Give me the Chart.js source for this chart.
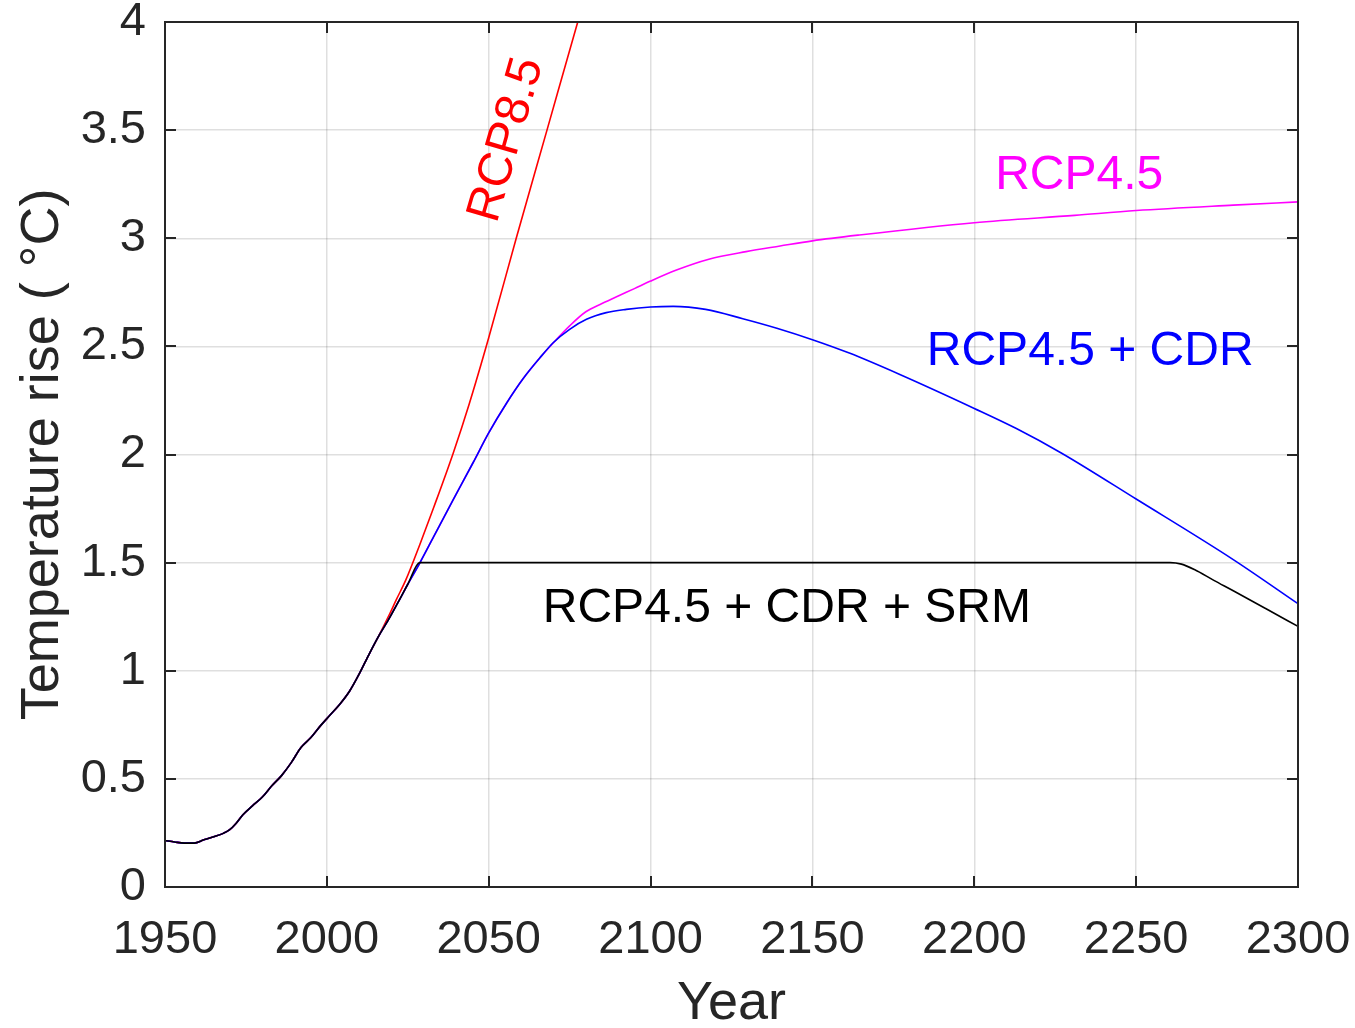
<!DOCTYPE html>
<html>
<head>
<meta charset="utf-8">
<script src="https://cdn.jsdelivr.net/npm/chart.js@4.4.1/dist/chart.umd.min.js"></script>
<style>
  html, body { margin: 0; padding: 0; background: #ffffff; }
  #c { display: block; }
</style>
</head>
<body>
<canvas id="c" width="1355" height="1028"></canvas>
<script>
// ---- Data ----
const histYears = [1950, 1953, 1956, 1959, 1962, 1965, 1968, 1970, 1972, 1974, 1977, 1980, 1983, 1986, 1989, 1992, 1995, 1998, 2001, 2004, 2007, 2010, 2013, 2016];
const histTemp  = [0.215, 0.208, 0.203, 0.203, 0.218, 0.232, 0.248, 0.265, 0.295, 0.333, 0.375, 0.415, 0.468, 0.515, 0.575, 0.645, 0.690, 0.745, 0.795, 0.845, 0.905, 0.985, 1.075, 1.160];

const rcp85Years = [2019, 2021.5, 2024.4, 2028.7, 2033, 2039, 2044, 2050, 2058.5, 2068, 2077.5, 2080];
const rcp85Temp  = [1.250, 1.330, 1.420, 1.583, 1.755, 2.005, 2.235, 2.540, 3.000, 3.500, 4.000, 4.130];

const rcp45Years = [2019, 2022.5, 2025, 2028.7, 2033, 2039, 2045.2, 2050, 2055.5, 2060.6, 2065.7, 2070, 2075, 2080, 2085, 2090, 2095, 2100, 2108, 2118, 2129.5, 2140, 2150, 2164.5, 2200, 2231, 2250, 2280, 2300];
const rcp45Temp  = [1.235, 1.330, 1.400, 1.498, 1.620, 1.790, 1.963, 2.100, 2.237, 2.350, 2.445, 2.517, 2.595, 2.660, 2.698, 2.733, 2.767, 2.802, 2.853, 2.903, 2.938, 2.964, 2.988, 3.015, 3.072, 3.106, 3.128, 3.153, 3.168];

const cdrYears = [2019, 2022.5, 2025, 2028.7, 2033, 2039, 2045.2, 2050, 2055.5, 2060.6, 2065.7, 2069.9, 2075, 2080.2, 2086.3, 2092.5, 2100, 2107, 2117, 2128.5, 2139, 2150, 2161.4, 2177, 2200, 2213, 2227, 2250, 2280, 2300];
const cdrTemp  = [1.235, 1.330, 1.400, 1.498, 1.620, 1.790, 1.963, 2.100, 2.237, 2.350, 2.445, 2.517, 2.579, 2.625, 2.656, 2.671, 2.682, 2.685, 2.671, 2.628, 2.584, 2.531, 2.469, 2.370, 2.213, 2.120, 2.006, 1.794, 1.514, 1.310];

const srmYears = [2019, 2022.5, 2025, 2028.7, 2100, 2200, 2260.5, 2264, 2268, 2274, 2280, 2290, 2300];
const srmTemp  = [1.235, 1.330, 1.400, 1.500, 1.500, 1.500, 1.500, 1.493, 1.468, 1.418, 1.370, 1.288, 1.205];

const xTickValues = [1950, 2000, 2050, 2100, 2150, 2200, 2250, 2300];
const xTickLabels = ['1950', '2000', '2050', '2100', '2150', '2200', '2250', '2300'];
const yTickValues = [0, 0.5, 1, 1.5, 2, 2.5, 3, 3.5, 4];
const yTickLabels = ['0', '0.5', '1', '1.5', '2', '2.5', '3', '3.5', '4'];

const seriesNames  = ['RCP8.5', 'RCP4.5', 'RCP4.5 + CDR', 'RCP4.5 + CDR + SRM'];
const seriesColors = ['#ff0000', '#ff00ff', '#0000ff', '#000000'];

// annotation positions in data units
const labelYears = [2055.6, 2232.4, 2235.8, 2142.1];
const labelTemps = [3.455, 3.29, 2.475, 1.287];
const labelRot   = [-74, 0, 0, 0];

// ---- build points ----
function pts(years, temps) { return years.map((y, i) => ({ x: y, y: temps[i] })); }
const hist = pts(histYears, histTemp);
const seriesPoints = [
  hist.concat(pts(rcp85Years, rcp85Temp)),
  hist.concat(pts(rcp45Years, rcp45Temp)),
  hist.concat(pts(cdrYears, cdrTemp)),
  hist.concat(pts(srmYears, srmTemp))
];
const drawOrder = [3, 2, 1, 0]; // black drawn on top

const FONT = '"Liberation Sans", Arial, Helvetica, sans-serif';
const AXIS_COLOR = '#262626';

const boxAndTicks = {
  id: 'boxAndTicks',
  afterDatasetsDraw(chart) {
    const { ctx, chartArea: a, scales: { x, y } } = chart;
    ctx.save();
    ctx.strokeStyle = AXIS_COLOR;
    ctx.lineWidth = 2;
    const tl = 11;
    ctx.beginPath();
    x.ticks.forEach(t => {
      const px = Math.round(x.getPixelForValue(t.value));
      ctx.moveTo(px, a.bottom); ctx.lineTo(px, a.bottom - tl);
      ctx.moveTo(px, a.top); ctx.lineTo(px, a.top + tl);
    });
    y.ticks.forEach(t => {
      const py = Math.round(y.getPixelForValue(t.value));
      ctx.moveTo(a.left, py); ctx.lineTo(a.left + tl, py);
      ctx.moveTo(a.right, py); ctx.lineTo(a.right - tl, py);
    });
    ctx.stroke();
    ctx.strokeRect(a.left, a.top, a.right - a.left, a.bottom - a.top);

    // annotations
    ctx.font = '48px ' + FONT;
    ctx.textAlign = 'center';
    ctx.textBaseline = 'middle';
    seriesNames.forEach((name, i) => {
      const px = x.getPixelForValue(labelYears[i]);
      const py = y.getPixelForValue(labelTemps[i]);
      ctx.save();
      ctx.translate(px, py);
      ctx.rotate(labelRot[i] * Math.PI / 180);
      ctx.fillStyle = seriesColors[i];
      ctx.fillText(name, 0, 0);
      ctx.restore();
    });
    ctx.restore();
  }
};

new Chart(document.getElementById('c'), {
  type: 'line',
  data: {
    datasets: seriesPoints.map((p, i) => ({
      label: seriesNames[i],
      data: p,
      order: drawOrder[i],
      borderColor: seriesColors[i],
      backgroundColor: seriesColors[i],
      borderWidth: 1.6,
      pointRadius: 0,
      fill: false,
      cubicInterpolationMode: 'monotone'
    }))
  },
  options: {
    responsive: false,
    animation: false,
    devicePixelRatio: 1,
    layout: { padding: { top: 22, right: 57, left: 0, bottom: 0 } },
    plugins: { legend: { display: false }, tooltip: { enabled: false } },
    scales: {
      x: {
        type: 'linear',
        min: 1950, max: 2300,
        afterBuildTicks(s) { s.ticks = xTickValues.map(v => ({ value: v })); },
        afterFit(s) { s.height = 141; s.paddingLeft = 0; s.paddingRight = 0; },
        grid: { color: 'rgba(38,38,38,0.15)', lineWidth: 1.5, drawTicks: false },
        border: { display: false },
        ticks: {
          padding: 25,
          color: AXIS_COLOR,
          font: { family: FONT, size: 47 },
          maxRotation: 0,
          autoSkip: false,
          callback: (v) => xTickLabels[xTickValues.indexOf(v)]
        },
        title: {
          display: true, text: 'Year', color: AXIS_COLOR,
          font: { family: FONT, size: 54, lineHeight: 0.89 },
          padding: { top: 0, bottom: 0 }
        }
      },
      y: {
        type: 'linear',
        min: 0, max: 4,
        afterBuildTicks(s) { s.ticks = yTickValues.map(v => ({ value: v })); },
        afterFit(s) { s.width = 165; s.paddingTop = 0; s.paddingBottom = 0; },
        grid: { color: 'rgba(38,38,38,0.15)', lineWidth: 1.5, drawTicks: false },
        border: { display: false },
        ticks: {
          padding: 19,
          color: AXIS_COLOR,
          font: { family: FONT, size: 47 },
          autoSkip: false,
          callback: (v) => yTickLabels[yTickValues.indexOf(v)]
        },
        title: {
          display: true, text: 'Temperature rise ( °C)', color: AXIS_COLOR,
          font: { family: FONT, size: 54 },
          padding: { top: 11, bottom: 0 }
        }
      }
    }
  },
  plugins: [boxAndTicks]
});
</script>
</body>
</html>
